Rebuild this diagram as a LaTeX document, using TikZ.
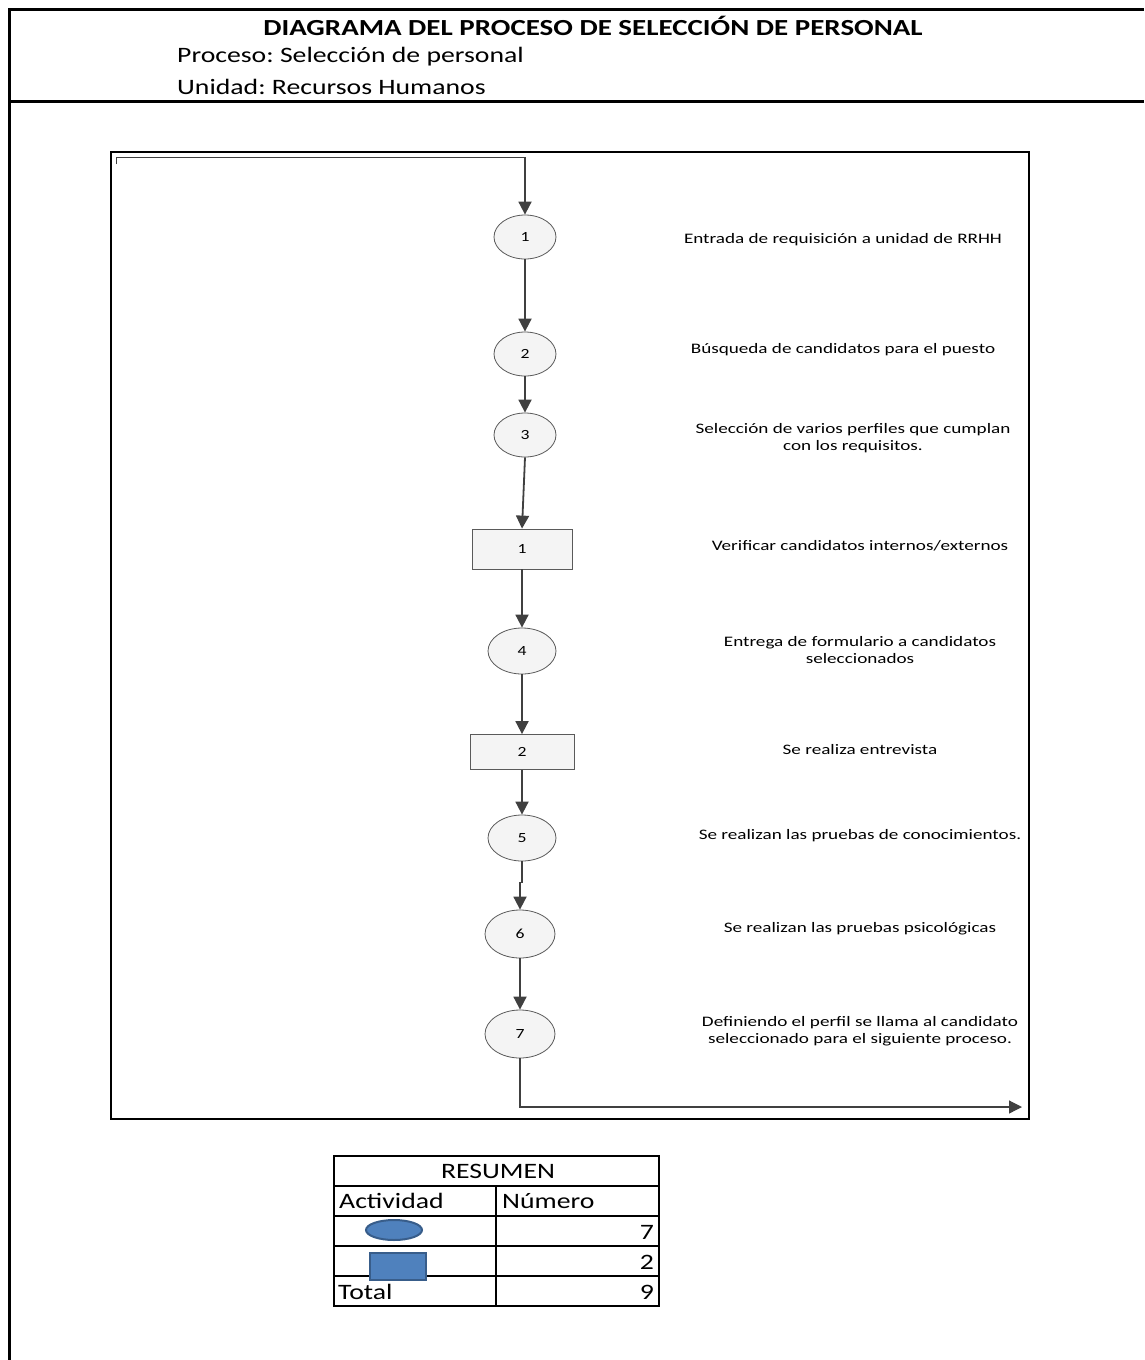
\documentclass[tikz,border=0pt]{standalone}
\usepackage{fontspec}
\setmainfont{Carlito}
\newfontfamily\widefont[FakeStretch=1.26]{Carlito}
\newfontfamily\descfont[FakeStretch=1.32]{Carlito}
\frenchspacing
\usetikzlibrary{shapes.geometric,arrows.meta,calc}
\definecolor{arrgray}{HTML}{404040}
\definecolor{nodefill}{HTML}{F4F4F4}
\definecolor{nodeline}{HTML}{5A5A5A}
\definecolor{blueshape}{HTML}{4F81BD}
\definecolor{blueedge}{HTML}{385D8A}
\tikzset{
  opnode/.style={ellipse,draw=nodeline,fill=nodefill,line width=0.8pt,minimum width=62,minimum height=44,inner sep=0pt,font=\widefont\fontsize{14}{16}\selectfont},
  bignode/.style={opnode,minimum width=70,minimum height=48},
  inspbox/.style={rectangle,draw=nodeline,fill=nodefill,line width=0.8pt,inner sep=0pt,font=\widefont\fontsize{14}{16}\selectfont},
  arr/.style={draw=arrgray,line width=1.8pt,-{Triangle[length=13pt,width=13pt]}},
  desc/.style={align=center,font=\descfont\fontsize{14.5}{17}\selectfont,inner sep=0pt},
  frame/.style={draw=black,line width=3pt},
  tline/.style={draw=black,line width=2pt},
  tabtext/.style={font=\widefont\fontsize{22}{24}\selectfont,inner sep=0pt}
}
\begin{document}
\begin{tikzpicture}[x=1pt,y=-1pt]
\useasboundingbox (0,0) rectangle (1144,1360);
% outer frame
\draw[frame] (9,1360) -- (9,9) -- (1144,9);
\draw[frame] (9,101) -- (1144,101);
\node[font=\widefont\bfseries\fontsize{23}{25}\selectfont,inner sep=0pt] (title) at (593,26) {DIAGRAMA DEL PROCESO DE SELECCIÓN DE PERSONAL};
\node[anchor=west,font=\widefont\fontsize{22}{24}\selectfont,inner sep=0pt] (proc) at (177,57) {Proceso: Selección de personal};
\node[anchor=west,font=\widefont\fontsize{22}{24}\selectfont,inner sep=0pt] (unid) at (177,87) {Unidad: Recursos Humanos};
% inner frame
\draw[draw=black,line width=1.6pt] (111,152) rectangle (1029,1119);
% nodes
\node[opnode] (n1) at (525,237) {1};
\node[opnode] (n2) at (525,354) {2};
\node[opnode] (n3) at (525,435) {3};
\node[inspbox,minimum width=100,minimum height=40] (b1) at (522,549) {1};
\node[opnode,minimum width=68,minimum height=46] (n4) at (522,651) {4};
\node[inspbox,minimum width=104,minimum height=35] (b2) at (522,752) {2};
\node[opnode,minimum width=68,minimum height=46] (n5) at (522,838) {5};
\node[bignode] (n6) at (520,934) {6};
\node[bignode] (n7) at (520,1034) {7};
% descriptions
\node[desc] (d1) at (843,240) {Entrada de requisición a unidad de RRHH};
\node[desc] (d2) at (843,350) {Búsqueda de candidatos para el puesto};
\node[desc] (d3) at (853,438) {Selección de varios perfiles que cumplan\\con los requisitos.};
\node[desc] (d4) at (860,546) {Verificar candidatos internos/externos};
\node[desc] (d5) at (860,650) {Entrega de formulario a candidatos\\seleccionados};
\node[desc] (d6) at (860,750) {Se realiza entrevista};
\node[desc] (d7) at (860,836) {Se realizan las pruebas de conocimientos.};
\node[desc] (d8) at (860,929) {Se realizan las pruebas psicológicas};
\node[desc] (d9) at (860,1031) {Definiendo el perfil se llama al candidato\\seleccionado para el siguiente proceso.};
% connectors
\coordinate (lstart) at (116,164);
\coordinate (ltop) at (525,157);
\draw[draw=arrgray,line width=1pt] (lstart) |- (ltop);
\draw[arr] (ltop) -- (n1.north);
\draw[arr] (n1) -- (n2);
\draw[arr] (n2) -- (n3);
\draw[arr] (n3.south) -- (b1.north);
\draw[arr] (b1) -- (n4);
\draw[arr] (n4) -- (b2);
\draw[arr] (b2) -- (n5);
\draw[arr] (n5.south) -- ++(0,21) -| (n6.north);
\draw[arr] (n6) -- (n7);
\coordinate (lend) at (1022,1107);
\draw[arr,line width=1.2pt] (n7.south) |- (lend);
% summary table
\draw[tline] (334,1156) rectangle (659,1306);
\draw[tline] (334,1186) -- (659,1186);
\draw[tline] (334,1216) -- (659,1216);
\draw[tline] (334,1246) -- (659,1246);
\draw[tline] (334,1276) -- (659,1276);
\draw[tline] (496,1186) -- (496,1306);
\node[tabtext] (tres) at (498,1171) {RESUMEN};
\node[tabtext,anchor=west] (tact) at (339,1201) {Actividad};
\node[tabtext,anchor=west] (tnum) at (502,1201) {Número};
\node[ellipse,draw=blueedge,fill=blueshape,line width=2pt,minimum width=56,minimum height=20,inner sep=0pt] (sym1) at (394,1230) {};
\node[rectangle,draw=blueedge,fill=blueshape,line width=2pt,minimum width=56,minimum height=27,inner sep=0pt] (sym2) at (398,1266) {};
\node[tabtext,anchor=east] (v1) at (654,1232) {7};
\node[tabtext,anchor=east] (v2) at (654,1262) {2};
\node[tabtext,anchor=west] (ttot) at (338,1292) {Total};
\node[tabtext,anchor=east] (v3) at (654,1292) {9};
\end{tikzpicture}
\end{document}
